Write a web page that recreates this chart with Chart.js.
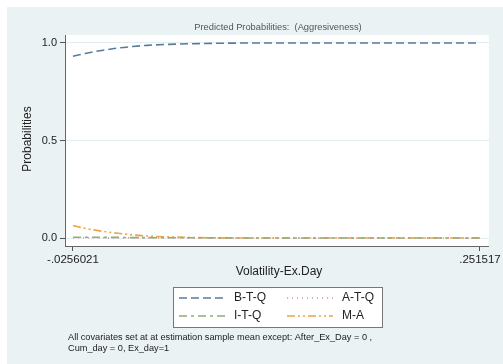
<!DOCTYPE html>
<html>
<head>
<meta charset="utf-8">
<script src="https://cdn.jsdelivr.net/npm/chart.js@4.4.0/dist/chart.umd.min.js"></script>
<style>
  html, body { margin: 0; padding: 0; background: #fff; }
  #wrap { width: 503px; height: 364px; }
</style>
</head>
<body>
<div id="wrap"><canvas id="probChart" width="503" height="364"></canvas></div>
<script>
// volatility values along the x axis
const volatility = [-0.0256021, -0.015, -0.005, 0.005, 0.015, 0.025, 0.04, 0.06, 0.1, 0.15, 0.2, 0.251517];

// predicted probabilities per outcome
const btq = [0.932, 0.950, 0.963, 0.974, 0.982, 0.988, 0.993, 0.997, 1.0, 1.0, 1.0, 1.0];
const atq = [0.001, 0.001, 0.001, 0.0005, 0.0005, 0.0003, 0.0002, 0.0001, 0, 0, 0, 0];
const itq = [0.004, 0.004, 0.003, 0.003, 0.002, 0.002, 0.001, 0.001, 0, 0, 0, 0];
const ma = [0.064, 0.046, 0.034, 0.024, 0.016, 0.010, 0.006, 0.002, 0, 0, 0, 0];

const yTicks = [0, 0.5, 1.0];
const xTicks = [-0.0256021, 0.251517];
const xTickLabels = ['-.0256021', '.251517'];

const seriesNames = ['B-T-Q', 'A-T-Q', 'I-T-Q', 'M-A'];
const colors = ['#587b9c', '#cf95a3', '#91ad70', '#eda446'];
const dashes = [[8, 4], [1, 4], [8, 4, 3, 4], [8, 3, 2, 3, 2, 3]];

const FONT = '"Liberation Sans", Arial, sans-serif';
const BG = '#eaf2f3';

const toPoints = (ys) => volatility.map((x, i) => ({ x: x, y: ys[i] }));

const datasets = [btq, atq, itq, ma].map((ys, i) => ({
  label: seriesNames[i],
  data: toPoints(ys),
  borderColor: colors[i],
  borderDash: dashes[i],
  borderWidth: 1.6,
  pointRadius: 0,
  cubicInterpolationMode: 'monotone',
  fill: false
}));

// backgrounds: outer frame, then white plot region
const backdrop = {
  id: 'backdrop',
  beforeDraw(chart) {
    const ctx = chart.ctx;
    const a = chart.chartArea;
    ctx.save();
    ctx.fillStyle = '#fff';
    ctx.fillRect(0, 0, chart.width, chart.height);
    ctx.fillStyle = BG;
    ctx.fillRect(7, 7, chart.width - 7, chart.height - 7);
    ctx.fillStyle = '#fff';
    ctx.fillRect(a.left, a.top, a.right - a.left, a.bottom - a.top);
    ctx.restore();
  }
};

// titles, legend box and footnote
const annotations = {
  id: 'annotations',
  afterDraw(chart) {
    const ctx = chart.ctx;
    ctx.save();
    ctx.textBaseline = 'middle';

    ctx.fillStyle = '#555';
    ctx.font = '9.3px ' + FONT;
    ctx.textAlign = 'center';
    ctx.fillText('Predicted Probabilities:  (Aggresiveness)', 278, 27);

    ctx.fillStyle = '#222';
    ctx.font = '12px ' + FONT;
    ctx.fillText('Volatility-Ex.Day', 279, 272);

    ctx.save();
    ctx.translate(28, 139);
    ctx.rotate(-Math.PI / 2);
    ctx.fillText('Probabilities', 0, 0);
    ctx.restore();

    // legend
    const box = { x: 173.5, y: 287.5, w: 209, h: 40 };
    ctx.fillStyle = '#fff';
    ctx.fillRect(box.x, box.y, box.w, box.h);
    ctx.strokeStyle = '#777';
    ctx.lineWidth = 1;
    ctx.strokeRect(box.x, box.y, box.w, box.h);

    const cols = [{ x0: 179, x1: 226, tx: 234 }, { x0: 287, x1: 333, tx: 342 }];
    const rows = [298, 316];
    seriesNames.forEach((name, k) => {
      const c = cols[k % 2];
      const y = rows[Math.floor(k / 2)];
      ctx.strokeStyle = colors[k];
      ctx.lineWidth = 1.6;
      ctx.setLineDash(dashes[k]);
      ctx.beginPath();
      ctx.moveTo(c.x0, y);
      ctx.lineTo(c.x1, y);
      ctx.stroke();
      ctx.setLineDash([]);
      ctx.fillStyle = '#222';
      ctx.font = '12px ' + FONT;
      ctx.textAlign = 'left';
      ctx.fillText(name, c.tx, y);
    });

    ctx.fillStyle = '#222';
    ctx.font = '9.2px ' + FONT;
    ctx.textAlign = 'left';
    ctx.fillText('All covariates set at at estimation sample mean except: After_Ex_Day = 0 ,', 68, 337);
    ctx.fillText('Cum_day = 0, Ex_day=1', 68, 348);
    ctx.restore();
  }
};

new Chart(document.getElementById('probChart'), {
  type: 'line',
  data: { datasets: datasets },
  options: {
    responsive: false,
    animation: false,
    layout: { padding: { left: 0, right: 11, top: 35, bottom: 0 } },
    plugins: { legend: { display: false }, tooltip: { enabled: false } },
    scales: {
      x: {
        type: 'linear',
        min: -0.03101,
        max: 0.25760,
        afterFit(scale) { scale.height = 118; },
        afterBuildTicks(scale) { scale.ticks = xTicks.map(v => ({ value: v })); },
        ticks: {
          autoSkip: false,
          maxRotation: 0,
          padding: 2,
          color: '#222',
          font: { family: FONT, size: 11.5 },
          callback: (v, i) => xTickLabels[i]
        },
        grid: { drawOnChartArea: false, tickLength: 5, tickColor: '#555' },
        border: { color: '#666', width: 1 }
      },
      y: {
        type: 'linear',
        min: -0.041,
        max: 1.041,
        afterFit(scale) { scale.width = 65; },
        afterBuildTicks(scale) { scale.ticks = yTicks.map(v => ({ value: v })); },
        ticks: {
          padding: 3,
          color: '#222',
          font: { family: FONT, size: 11 },
          callback: (v) => v.toFixed(1)
        },
        grid: { color: '#e4edef', tickLength: 5, tickColor: '#555' },
        border: { color: '#666', width: 1 }
      }
    }
  },
  plugins: [backdrop, annotations]
});
</script>
</body>
</html>
